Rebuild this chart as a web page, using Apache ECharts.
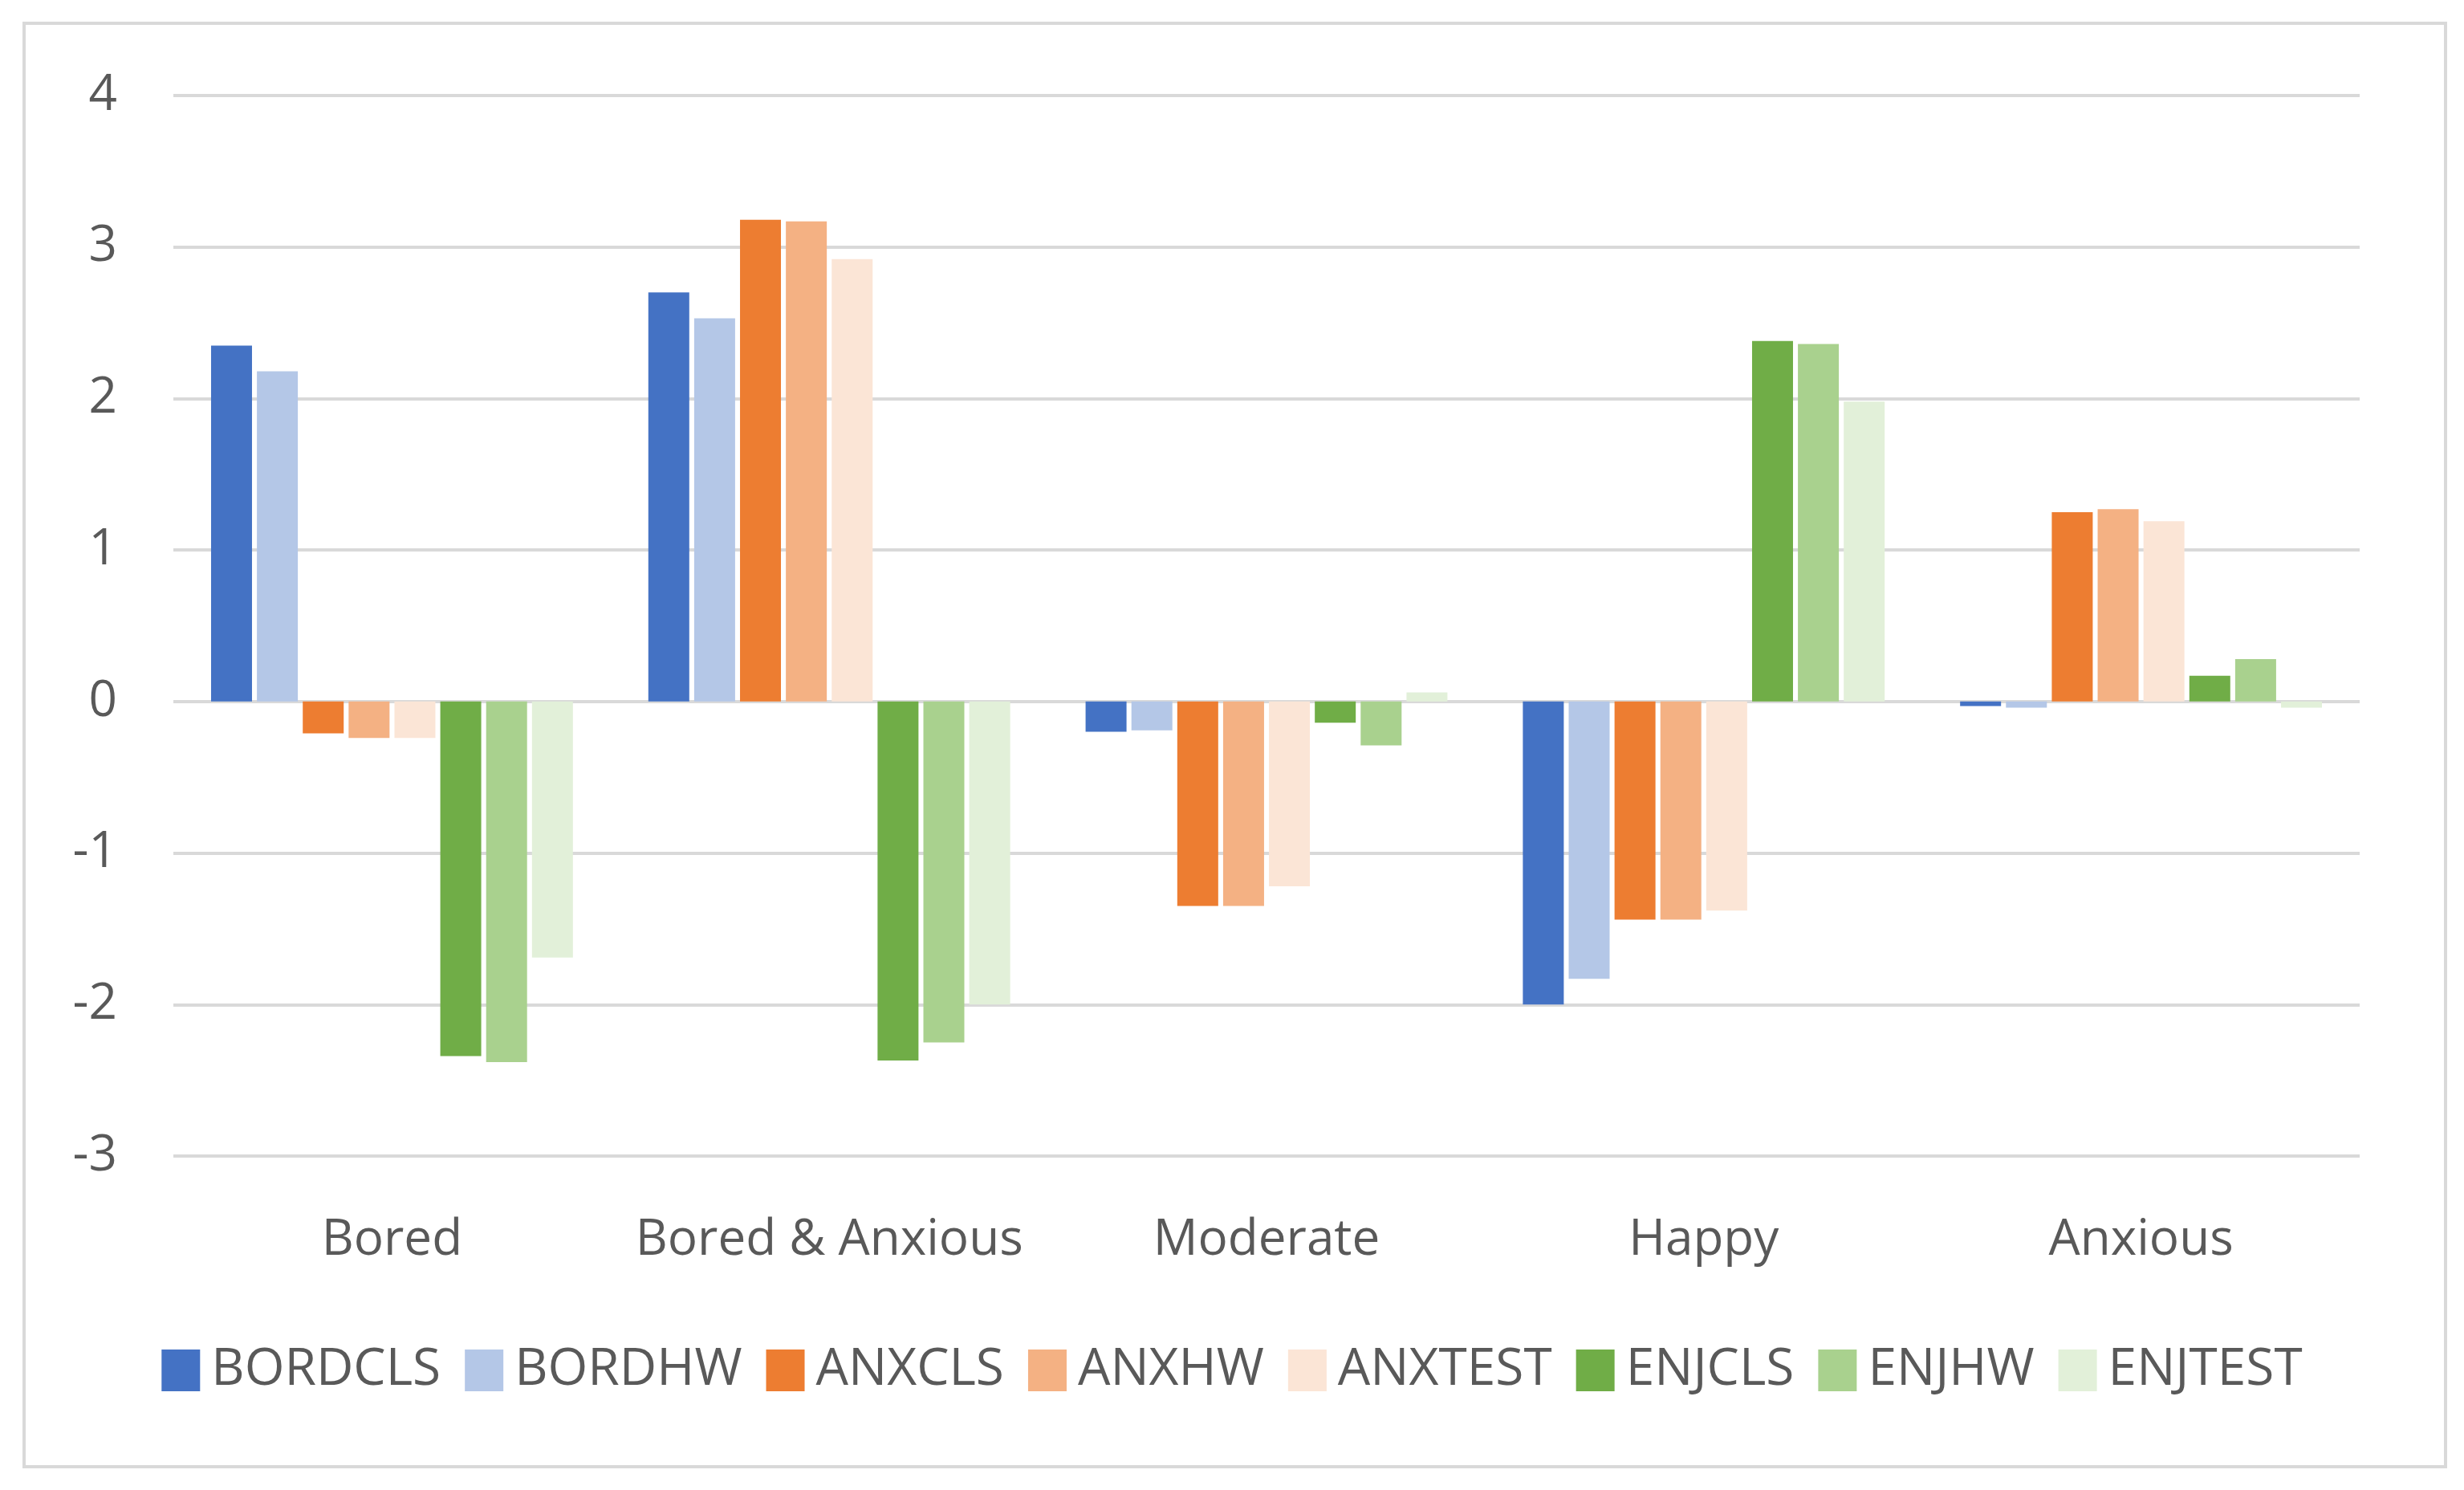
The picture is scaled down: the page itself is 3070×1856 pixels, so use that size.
<!DOCTYPE html>
<html>
<head>
<meta charset="utf-8">
<script src="https://cdn.jsdelivr.net/npm/echarts@6/dist/echarts.min.js"></script>
<style>
html,body{margin:0;padding:0;background:#fff;}
#main{width:3070px;height:1856px;}
</style>
</head>
<body>
<div id="main"></div>
<script>
const categories = ['Bored', 'Bored & Anxious', 'Moderate', 'Happy', 'Anxious'];
const seriesNames = ['BORDCLS', 'BORDHW', 'ANXCLS', 'ANXHW', 'ANXTEST', 'ENJCLS', 'ENJHW', 'ENJTEST'];
const BORDCLS = [2.35, 2.70, -0.20, -2.00, -0.03];
const BORDHW  = [2.18, 2.53, -0.19, -1.83, -0.04];
const ANXCLS  = [-0.21, 3.18, -1.35, -1.44, 1.25];
const ANXHW   = [-0.24, 3.17, -1.35, -1.44, 1.27];
const ANXTEST = [-0.24, 2.92, -1.22, -1.38, 1.19];
const ENJCLS  = [-2.34, -2.37, -0.14, 2.38, 0.17];
const ENJHW   = [-2.38, -2.25, -0.29, 2.36, 0.28];
const ENJTEST = [-1.69, -2.00, 0.06, 1.98, -0.04];
const yTicks = [-3, -2, -1, 0, 1, 2, 3, 4];
const colors = ['#4472C4', '#B4C7E7', '#ED7D31', '#F4B183', '#FBE5D6', '#70AD47', '#A9D18E', '#E2F0D9'];

const values = [BORDCLS, BORDHW, ANXCLS, ANXHW, ANXTEST, ENJCLS, ENJHW, ENJTEST];
const font = '"Open Sans", "Liberation Sans", sans-serif';
const chart = echarts.init(document.getElementById('main'));
chart.setOption({
  backgroundColor: '#ffffff',
  animation: false,
  textStyle: { fontFamily: font },
  color: colors,
  graphic: [{
    type: 'rect',
    shape: { x: 30, y: 29, width: 3017, height: 1798 },
    style: { fill: 'none', stroke: '#D9D9D9', lineWidth: 4 },
    z: -1
  }],
  grid: { left: 216, right: 130, top: 119, bottom: 416, containLabel: false },
  legend: {
    data: seriesNames,
    left: 'center',
    top: 1670,
    icon: 'rect',
    itemWidth: 48,
    itemHeight: 52,
    itemGap: 30,
    textStyle: { fontSize: 64, color: '#595959', fontFamily: font, padding: [0, 0, 0, 9] }
  },
  xAxis: {
    type: 'category',
    data: categories,
    position: 'bottom',
    axisLine: { show: false, onZero: false },
    axisTick: { show: false },
    axisLabel: { interval: 0, fontSize: 62, color: '#595959', margin: 74, fontFamily: font },
    splitLine: { show: false }
  },
  yAxis: {
    type: 'value',
    min: yTicks[0],
    max: yTicks[yTicks.length - 1],
    interval: 1,
    axisLine: { show: false },
    axisTick: { show: false },
    axisLabel: { fontSize: 62, color: '#595959', margin: 70, fontFamily: font },
    splitLine: { show: true, lineStyle: { color: '#D9D9D9', width: 4 } }
  },
  series: seriesNames.map((n, i) => ({
    name: n,
    type: 'bar',
    data: values[i],
    barWidth: 51,
    barGap: '12%',
    itemStyle: { color: colors[i] }
  }))
});
</script>
</body>
</html>
